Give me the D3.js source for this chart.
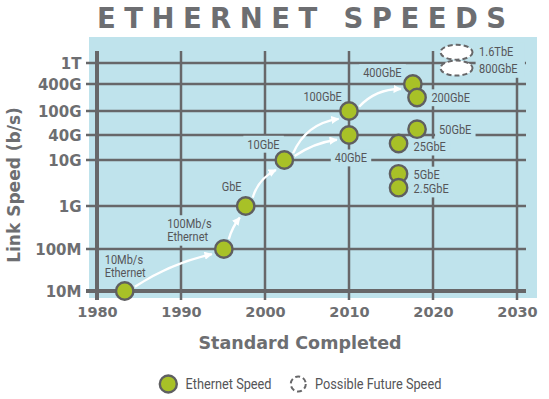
<!DOCTYPE html>
<html><head><meta charset="utf-8">
<script src="https://cdn.jsdelivr.net/npm/d3@7"></script>
<style>
html,body{margin:0;padding:0;background:#fff;}
svg{display:block;}
</style></head>
<body>
<svg id="chart" width="549" height="399"></svg>
<script>
// ---------- data ----------
const yearTicks = [1980, 1990, 2000, 2010, 2020, 2030];
const speedTicks = [1e7, 1e8, 1e9, 1e10, 4e10, 1e11, 4e11, 1e12];
const speedTickLabels = ["10M", "100M", "1G", "10G", "40G", "100G", "400G", "1T"];

const standardNames  = ["10Mb/s Ethernet", "100Mb/s Ethernet", "GbE", "10GbE", "40GbE", "100GbE", "400GbE", "200GbE", "50GbE", "25GbE", "5GbE", "2.5GbE"];
const standardYears  = [1983.3, 1995.1, 1997.7, 2002.3, 2010.0, 2010.0, 2017.6, 2018.1, 2018.1, 2015.9, 2015.9, 2015.9];
const standardSpeeds = [1e7, 1e8, 1e9, 1e10, 4e10, 1e11, 4e11, 2e11, 5e10, 2.5e10, 5e9, 2.5e9];

const futureNames  = ["1.6TbE", "800GbE"];
const futureYears  = [2022.8, 2022.8];
const futureSpeeds = [1.6e12, 8e11];

const arrowFrom = ["10Mb/s Ethernet", "100Mb/s Ethernet", "GbE", "10GbE", "10GbE", "100GbE"];
const arrowTo   = ["100Mb/s Ethernet", "GbE", "10GbE", "100GbE", "40GbE", "400GbE"];

const legendLabels = ["Ethernet Speed", "Possible Future Speed"];

// ---------- layout / style ----------
const labelLayout = {
  "10Mb/s Ethernet":  {dx: -20,   dy: -32,   lines: ["10Mb/s", "Ethernet"]},
  "100Mb/s Ethernet": {dx: -56.7, dy: -25.6, lines: ["100Mb/s", "Ethernet"]},
  "GbE":    {dx: -24,   dy: -19.7},
  "10GbE":  {dx: -37,   dy: -16},
  "40GbE":  {dx: -14.3, dy: 22.7},
  "100GbE": {dx: -45.6, dy: -14.3},
  "400GbE": {dx: -49.7, dy: -11.6},
  "200GbE": {dx: 14.4,  dy: 0},
  "50GbE":  {dx: 22,    dy: 0.7},
  "25GbE":  {dx: 15,    dy: 3.3},
  "5GbE":   {dx: 15,    dy: 1},
  "2.5GbE": {dx: 15,    dy: 1},
  "1.6TbE": {dx: 22.6,  dy: -1},
  "800GbE": {dx: 22.6,  dy: 0}
};
const arrowBend = [0.09, 0.1, 0.22, 0.28, 0.12, 0.22];

const PANEL = "#bfe3ec", GRID = "#676769", TEXT = "#6d6e71", LABEL = "#555558";
const GREEN = "#a8c127", STROKE = "#5f5f61";
const NARROW = "Roboto, 'Liberation Sans', sans-serif";
const SQUEEZE = 0.88;
const BOLD = "'DejaVu Sans',sans-serif";

const svg = d3.select("#chart");

const x = d3.scaleLinear().domain([1980, 2030]).range([97, 517]);
const y = d3.scaleLog().domain(speedTicks).range([291, 249, 206, 160, 135, 111, 84, 63]);

// panel
svg.append("rect").attr("x", 89).attr("y", 37).attr("width", 448).attr("height", 261).attr("fill", PANEL);

// title
const title = svg.append("text").attr("x", 97).attr("y", 28)
  .attr("font-family", BOLD).attr("font-weight", 700).attr("font-size", 27.5)
  .attr("fill", TEXT).text("ETHERNET SPEEDS");
{
  const w = title.node().getComputedTextLength();
  title.attr("letter-spacing", (409 - w) / 14);
}

// grid
const grid = svg.append("g");
const xLeft = x.range()[0], xRight = x.range()[1];
const yTop = y(1e12), yBottom = y(1e7);
grid.selectAll(".h").data(speedTicks).join("line")
  .attr("x1", xLeft - 11).attr("x2", xRight + 9)
  .attr("y1", d => y(d)).attr("y2", d => y(d))
  .attr("stroke", GRID).attr("stroke-width", d => d === speedTicks[0] ? 4 : 2.5);
grid.selectAll(".v").data(yearTicks).join("line")
  .attr("x1", d => x(d)).attr("x2", d => x(d))
  .attr("y1", yTop - 12).attr("y2", yBottom + 9)
  .attr("stroke", GRID).attr("stroke-width", d => d === yearTicks[0] ? 4 : 2.5);

// axes (labels)
const yAxis = svg.append("g").attr("transform", `translate(${xLeft},0)`)
  .call(d3.axisLeft(y).tickValues(speedTicks).tickFormat((d, i) => speedTickLabels[i]).tickSize(0).tickPadding(15.5));
const xAxis = svg.append("g").attr("transform", `translate(0,${yBottom})`)
  .call(d3.axisBottom(x).tickValues(yearTicks).tickFormat(d3.format("d")).tickSize(0).tickPadding(15.5));
[yAxis, xAxis].forEach(a => {
  a.select(".domain").remove();
  a.selectAll("text").attr("font-family", BOLD).attr("font-weight", 700).attr("fill", TEXT);
});
yAxis.selectAll("text").attr("font-size", 15).attr("dy", "0.36em");
xAxis.selectAll("text").attr("font-size", 14.5);

// axis titles
svg.append("text").attr("transform", "translate(20,185) rotate(-90)")
  .attr("text-anchor", "middle").attr("font-family", BOLD).attr("font-weight", 700)
  .attr("font-size", 17).attr("fill", TEXT).text("Link Speed (b/s)");
svg.append("text").attr("x", 300).attr("y", 349)
  .attr("text-anchor", "middle").attr("font-family", BOLD).attr("font-weight", 700)
  .attr("font-size", 17.5).attr("fill", TEXT).text("Standard Completed");

// point data
const points = standardNames.map((n, i) => ({name: n, year: standardYears[i], speed: standardSpeeds[i]}));
const future = futureNames.map((n, i) => ({name: n, year: futureYears[i], speed: futureSpeeds[i]}));
const byName = Object.fromEntries(points.map(p => [p.name, p]));

// labels with knock-out backgrounds (condensed via horizontal squeeze)
const labelG = svg.append("g");
function addLabel(p) {
  const L = labelLayout[p.name];
  const lines = L.lines || [p.name];
  const g = labelG.append("g")
    .attr("transform", `translate(${x(p.year) + L.dx},${y(p.speed) + L.dy}) scale(${SQUEEZE},1)`);
  const t = g.append("text")
    .attr("font-family", NARROW).attr("font-size", 12.5).attr("fill", LABEL);
  lines.forEach((ln, k) => {
    t.append("tspan").attr("x", 0).attr("y", k * 13.6).attr("dy", "0.36em").text(ln);
  });
  return g;
}
const allLabelGroups = [];
points.forEach(p => allLabelGroups.push(addLabel(p)));
const futureGroups = future.map(p => addLabel(p));
allLabelGroups.forEach(g => {
  const b = g.node().getBBox();
  g.insert("rect", "text").attr("x", b.x - 4.5).attr("y", b.y - 1).attr("width", b.width + 9)
    .attr("height", b.height + 2).attr("fill", PANEL);
});
{
  const boxes = futureGroups.map(g => g.node().getBBox());
  const wmax = d3.max(boxes, b => b.width);
  futureGroups.forEach((g, i) => {
    const b = boxes[i];
    g.insert("rect", "text").attr("x", b.x - 4).attr("y", b.y - 2).attr("width", wmax + 12)
      .attr("height", b.height + 4).attr("fill", PANEL);
  });
}

// arrows
svg.append("defs").append("marker").attr("id", "head")
  .attr("viewBox", "0 0 10 10").attr("refX", 9).attr("refY", 5)
  .attr("markerWidth", 3.4).attr("markerHeight", 3.4).attr("orient", "auto")
  .attr("markerUnits", "strokeWidth")
  .append("path").attr("d", "M0,0 L10,5 L0,10 z").attr("fill", "#fff");
const arrowG = svg.append("g");
arrowFrom.forEach((f, i) => {
  const a = byName[f], b = byName[arrowTo[i]];
  const ax = x(a.year), ay = y(a.speed), bx = x(b.year), by = y(b.speed);
  const dx = bx - ax, dy = by - ay, len = Math.hypot(dx, dy);
  const ux = dx / len, uy = dy / len;
  const sx = ax + ux * 11, sy = ay + uy * 11;
  const ex = bx - ux * 13, ey = by - uy * 13;
  const cl = Math.hypot(ex - sx, ey - sy);
  const mx = (sx + ex) / 2, my = (sy + ey) / 2;
  const k = arrowBend[i] * cl;
  const cx = mx + uy * k, cy = my - ux * k;
  const path = d3.path();
  path.moveTo(sx, sy);
  path.quadraticCurveTo(cx, cy, ex, ey);
  arrowG.append("path").attr("d", path.toString()).attr("fill", "none")
    .attr("stroke", "#fff").attr("stroke-width", 2.4).attr("marker-end", "url(#head)");
});

// future ellipses
svg.append("g").selectAll("ellipse").data(future).join("ellipse")
  .attr("cx", d => x(d.year)).attr("cy", d => y(d.speed)).attr("rx", 16).attr("ry", 7.5)
  .attr("fill", "#fff").attr("stroke", GRID).attr("stroke-width", 2).attr("stroke-dasharray", "5 3");

// circles
svg.append("g").selectAll("circle").data(points).join("circle")
  .attr("cx", d => x(d.year)).attr("cy", d => y(d.speed)).attr("r", 8.7)
  .attr("fill", GREEN).attr("stroke", STROKE).attr("stroke-width", 2.4);

// legend
const lg = svg.append("g");
lg.append("circle").attr("cx", 168.3).attr("cy", 384).attr("r", 8.5)
  .attr("fill", GREEN).attr("stroke", STROKE).attr("stroke-width", 2.4);
lg.append("circle").attr("cx", 298.3).attr("cy", 384).attr("r", 7.5)
  .attr("fill", "none").attr("stroke", GRID).attr("stroke-width", 2).attr("stroke-dasharray", "5 3");
lg.selectAll("g").data(legendLabels).join("g")
  .attr("transform", (d, i) => `translate(${i === 0 ? 185.5 : 315},384) scale(${SQUEEZE},1)`)
  .append("text").attr("dy", "0.36em")
  .attr("font-family", NARROW).attr("font-size", 14.5).attr("fill", LABEL).text(d => d);
</script>
</body></html>
